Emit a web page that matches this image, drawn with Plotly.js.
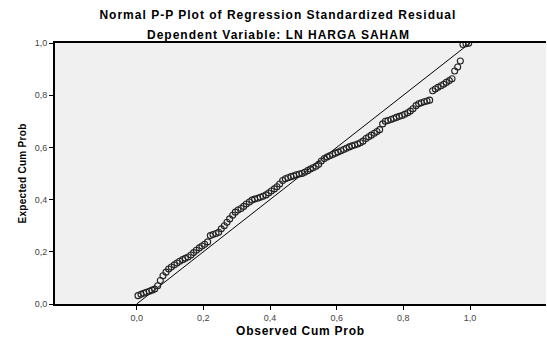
<!DOCTYPE html>
<html>
<head>
<meta charset="utf-8">
<script src="https://cdn.plot.ly/plotly-3.0.1.min.js"></script>
<style>
html,body{margin:0;padding:0;background:#fff;}
#chart{width:547px;height:338px;}
.gtitle, .annotation-text{letter-spacing:1px;}
.xtitle{letter-spacing:0.75px;}
.ytitle{letter-spacing:0.3px;}
</style>
</head>
<body>
<div id="chart"></div>
<script>
// Observed cumulative probabilities (x)
const observedCumProb = [
0.004,0.013,0.021,0.029,0.038,0.046,0.054,0.063,0.071,0.079,
0.088,0.096,0.104,0.113,0.121,0.129,0.138,0.146,0.154,0.163,
0.171,0.179,0.188,0.196,0.204,0.213,0.221,0.229,0.238,0.246,
0.254,0.263,0.271,0.279,0.288,0.296,0.304,0.313,0.321,0.329,
0.338,0.346,0.354,0.363,0.371,0.379,0.388,0.396,0.404,0.413,
0.421,0.429,0.438,0.446,0.454,0.463,0.471,0.479,0.488,0.496,
0.504,0.513,0.521,0.529,0.538,0.546,0.554,0.563,0.571,0.579,
0.588,0.596,0.604,0.613,0.621,0.629,0.638,0.646,0.654,0.663,
0.671,0.679,0.688,0.696,0.704,0.713,0.721,0.729,0.738,0.746,
0.754,0.763,0.771,0.779,0.788,0.796,0.804,0.813,0.821,0.829,
0.838,0.846,0.854,0.863,0.871,0.879,0.888,0.896,0.904,0.913,
0.921,0.929,0.938,0.946,0.954,0.963,0.971,0.979,0.988,0.996
];
// Expected cumulative probabilities (y)
const expectedCumProb = [
0.032,0.037,0.041,0.045,0.049,0.053,0.057,0.070,0.090,0.108,
0.122,0.134,0.142,0.150,0.157,0.164,0.170,0.175,0.180,0.188,
0.197,0.206,0.215,0.222,0.229,0.238,0.262,0.266,0.270,0.275,
0.288,0.300,0.313,0.326,0.340,0.352,0.360,0.366,0.374,0.383,
0.391,0.398,0.402,0.405,0.409,0.413,0.418,0.425,0.433,0.441,
0.449,0.460,0.473,0.480,0.484,0.488,0.491,0.495,0.498,0.500,
0.505,0.511,0.517,0.522,0.528,0.535,0.548,0.557,0.563,0.568,
0.573,0.578,0.582,0.587,0.592,0.597,0.602,0.606,0.609,0.613,
0.618,0.624,0.634,0.641,0.647,0.654,0.661,0.668,0.690,0.700,
0.703,0.707,0.711,0.715,0.719,0.722,0.727,0.733,0.739,0.748,
0.760,0.767,0.771,0.775,0.778,0.781,0.817,0.824,0.830,0.836,
0.842,0.849,0.856,0.863,0.893,0.908,0.931,0.994,0.997,0.999
];
// Reference diagonal
const refX = [0, 1];
const refY = [0, 1];
const tickVals = [0, 0.2, 0.4, 0.6, 0.8, 1.0];
const tickText = ["0,0", "0,2", "0,4", "0,6", "0,8", "1,0"];

const FONT = "Liberation Sans, Arial, sans-serif";

const traces = [
  {
    x: refX, y: refY, type: "scatter", mode: "lines",
    line: {color: "#000", width: 1}, hoverinfo: "skip", showlegend: false
  },
  {
    x: observedCumProb, y: expectedCumProb, type: "scatter", mode: "markers",
    marker: {symbol: "circle-open", size: 6, color: "#222", line: {color: "#222", width: 1.1}},
    showlegend: false
  }
];

const layout = {
  width: 547, height: 338,
  margin: {l: 55, r: 1, t: 43, b: 34},
  paper_bgcolor: "#ffffff",
  plot_bgcolor: "#f0f0f0",
  font: {family: FONT, color: "#000"},
  title: {
    text: "<b>Normal P-P Plot of Regression Standardized Residual</b>",
    font: {family: FONT, size: 12, color: "#000"},
    xref: "container", x: 0.508, xanchor: "center",
    yref: "container", y: 1 - 14.5/338, yanchor: "middle"
  },
  annotations: [{
    text: "<b>Dependent Variable: LN HARGA SAHAM</b>",
    font: {family: FONT, size: 12, color: "#000"},
    xref: "paper", yref: "paper",
    x: (278 - 55) / 491, y: 1 + (43 - 35) / 261,
    xanchor: "center", yanchor: "middle", showarrow: false
  }],
  xaxis: {
    range: [-0.245, 1.228],
    tickvals: tickVals, ticktext: tickText,
    ticks: "outside", ticklen: 4, tickwidth: 1, tickcolor: "#000",
    tickfont: {family: FONT, size: 9, color: "#444"},
    showgrid: false, zeroline: false,
    showline: true, linecolor: "#000", linewidth: 2, mirror: true,
    title: {text: "<b>Observed Cum Prob</b>", font: {family: FONT, size: 12, color: "#000"}, standoff: 5}
  },
  yaxis: {
    range: [0, 1],
    tickvals: tickVals, ticktext: tickText,
    ticks: "outside", ticklen: 4, tickwidth: 1, tickcolor: "#000",
    tickfont: {family: FONT, size: 9, color: "#444"},
    showgrid: false, zeroline: false,
    showline: true, linecolor: "#000", linewidth: 2, mirror: false,
    title: {text: "<b>Expected Cum Prob</b>", font: {family: FONT, size: 10, color: "#000"}, standoff: 6}
  }
};

Plotly.newPlot("chart", traces, layout, {displayModeBar: false, staticPlot: true});
</script>
</body>
</html>
